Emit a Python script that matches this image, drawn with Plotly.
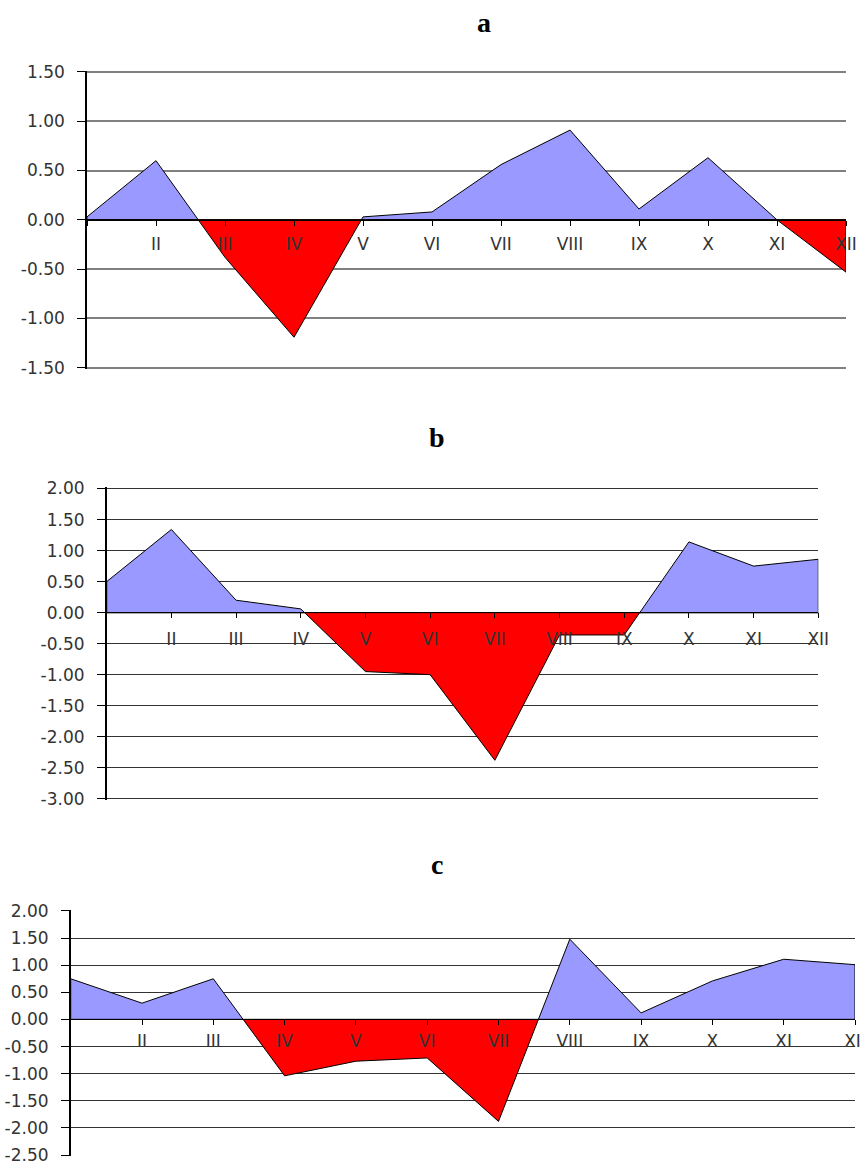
import plotly.graph_objects as go

# ---------------- data ----------------
months = ["I", "II", "III", "IV", "V", "VI", "VII", "VIII", "IX", "X", "XI", "XII"]
month_labels = [""] + months[1:]          # the first label is not shown in the original

a_values = [0.03, 0.60, -0.38, -1.19, 0.03, 0.08, 0.56, 0.91, 0.11, 0.63, 0.00, -0.53]
b_values = [0.50, 1.34, 0.20, 0.06, -0.95, -1.00, -2.38, -0.36, -0.36, 1.14, 0.75, 0.86]
c_values = [0.75, 0.30, 0.75, -1.04, -0.77, -0.71, -1.88, 1.48, 0.12, 0.71, 1.11, 1.01]

a_yticks = [1.50, 1.00, 0.50, 0.00, -0.50, -1.00, -1.50]
b_yticks = [2.00, 1.50, 1.00, 0.50, 0.00, -0.50, -1.00, -1.50, -2.00, -2.50, -3.00]
c_yticks = [2.00, 1.50, 1.00, 0.50, 0.00, -0.50, -1.00, -1.50, -2.00, -2.50]

panel_titles = ["a", "b", "c"]

# ---------------- layout (pixels) ----------------
W, H = 861, 1162
POS_COLOR = "#9999FF"
NEG_COLOR = "#FF0000"

panels = [
    dict(values=a_values, yticks=a_yticks, title=panel_titles[0],
         left=87, right=846, top=70.7, bottom=369, tx=484, ty=22,
         grid="#808080", gridw=1.5, label_gap=4),
    dict(values=b_values, yticks=b_yticks, title=panel_titles[1],
         left=106.7, right=818.3, top=487.3, bottom=800, tx=437, ty=437,
         grid="#333333", gridw=1, label_gap=6),
    dict(values=c_values, yticks=c_yticks, title=panel_titles[2],
         left=70.7, right=855, top=910, bottom=1156, tx=437, ty=865,
         grid="#333333", gridw=1, label_gap=1),
]


def split_polygons(vals):
    """Build closed positive and negative polygons (with zero crossings)."""
    xs, ys = [], []
    for i, v in enumerate(vals):
        if i > 0:
            p = vals[i - 1]
            if (p > 0 and v < 0) or (p < 0 and v > 0):
                t = p / (p - v)
                xs.append(i - 1 + t)
                ys.append(0.0)
        xs.append(float(i))
        ys.append(v)
    pos_y = [max(y, 0.0) for y in ys]
    neg_y = [min(y, 0.0) for y in ys]
    close_x = [xs[-1], xs[0], xs[0]]
    px = xs + close_x
    py = pos_y + [0.0, 0.0, pos_y[0]]
    nx = xs + close_x
    ny = neg_y + [0.0, 0.0, neg_y[0]]
    return (px, py), (nx, ny)


fig = go.Figure()
tick_font = dict(family="DejaVu Sans", size=17, color="#333333")

for k, p in enumerate(panels):
    sfx = "" if k == 0 else str(k + 1)
    xa, ya = "x" + sfx, "y" + sfx
    (px, py), (nx, ny) = split_polygons(p["values"])
    fig.add_trace(go.Scatter(x=px, y=py, mode="lines", fill="toself",
                             fillcolor=POS_COLOR, line=dict(color="black", width=1),
                             xaxis=xa, yaxis=ya, showlegend=False, hoverinfo="skip"))
    fig.add_trace(go.Scatter(x=nx, y=ny, mode="lines", fill="toself",
                             fillcolor=NEG_COLOR, line=dict(color="black", width=1),
                             xaxis=xa, yaxis=ya, showlegend=False, hoverinfo="skip"))

    ymax, ymin = max(p["yticks"]), min(p["yticks"])
    eps = 0.004 * (ymax - ymin)
    zero_px = p["top"] + (ymax - 0) / (ymax - ymin) * (p["bottom"] - p["top"])
    ydom = [1 - p["bottom"] / H, 1 - p["top"] / H]
    xdom = [p["left"] / W, p["right"] / W]

    fig.layout["xaxis" + sfx] = dict(
        domain=xdom, range=[0, len(months) - 1], anchor="free",
        position=1 - zero_px / H, showgrid=False, zeroline=False,
        showline=True, linecolor="black", linewidth=1,
        ticks="outside", ticklen=5, tickcolor="black", tickwidth=1,
        tickmode="array", tickvals=list(range(len(months))), ticktext=month_labels,
        tickfont=tick_font, ticklabelstandoff=p["label_gap"], fixedrange=True,
        automargin=False, ticklabeloverflow="allow",
    )
    fig.layout["yaxis" + sfx] = dict(
        domain=ydom, range=[ymin - eps, ymax + eps], anchor=xa,
        showgrid=True, gridcolor=p["grid"], gridwidth=p["gridw"], zeroline=False,
        showline=True, linecolor="black", linewidth=1.5,
        ticks="outside", ticklen=8, tickcolor="black", tickwidth=1,
        tickmode="array", tickvals=p["yticks"],
        ticktext=["%.2f" % v for v in p["yticks"]],
        tickfont=tick_font, ticklabelstandoff=9, fixedrange=True,
        automargin=False, ticklabeloverflow="allow",
    )
    fig.add_annotation(text="<b>%s</b>" % p["title"], xref="paper", yref="paper",
                       x=p["tx"] / W, y=1 - p["ty"] / H, xanchor="center", yanchor="middle",
                       showarrow=False,
                       font=dict(family="Liberation Serif", size=28, color="black"))

fig.update_layout(width=W, height=H, margin=dict(l=0, r=0, t=0, b=0, autoexpand=False),
                  paper_bgcolor="white", plot_bgcolor="white")

fig.write_html("out.html", config={"displayModeBar": False},
               post_script="document.body.style.margin='0';document.body.style.overflow='hidden';")
